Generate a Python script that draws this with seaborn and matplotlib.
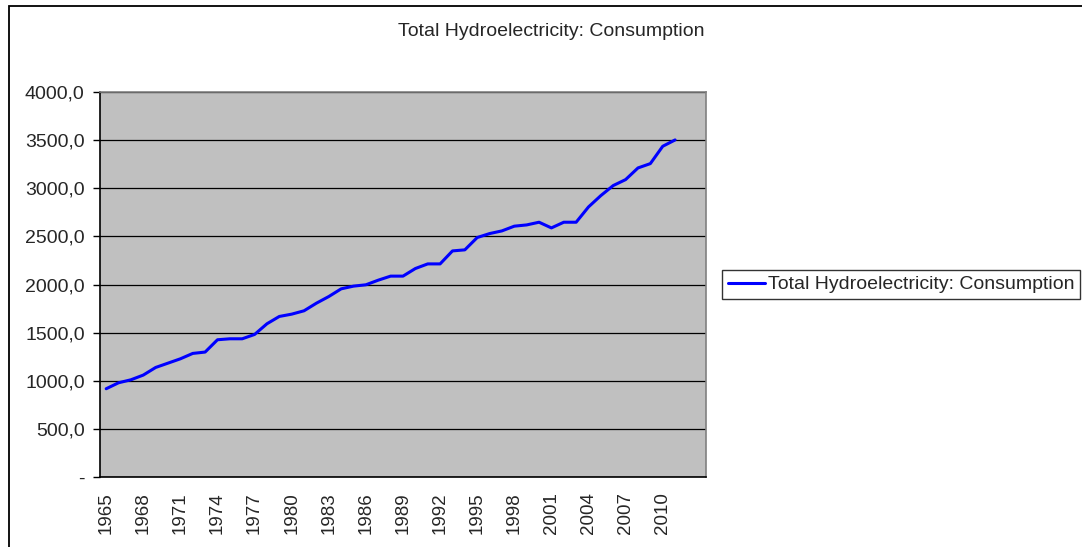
import numpy as np
import pandas as pd
import seaborn as sns
from matplotlib import pyplot as plt
from matplotlib.patches import Rectangle
from matplotlib.ticker import FuncFormatter

# data
years = [str(y) for y in range(1965, 2012)] + ['', '']
consumption = [917, 979, 1010, 1059, 1138, 1183, 1228, 1284, 1298, 1426,
               1436, 1436, 1481, 1592, 1668, 1692, 1727, 1806, 1875, 1955,
               1983, 1997, 2045, 2087, 2087, 2166, 2214, 2214, 2349, 2360,
               2488, 2529, 2557, 2606, 2619, 2647, 2588, 2647, 2647, 2806,
               2924, 3028, 3090, 3211, 3256, 3436, 3502]
series_name = 'Total Hydroelectricity: Consumption'

df = pd.DataFrame({'pos': np.arange(len(consumption)), 'value': consumption})

sns.set_style('white')
plt.rcParams['font.family'] = ['Liberation Sans', 'DejaVu Sans']
plt.rcParams['font.size'] = 14

fig = plt.figure(figsize=(10.82, 5.47), dpi=100)
ax = fig.add_axes([100/1082, 70/547, 606/1082, 385/547])
ax.set_facecolor('#c0c0c0')

sns.lineplot(data=df, x='pos', y='value', ax=ax, color='#0000ff',
             linewidth=2.2, label=series_name)

ax.set_xlim(-0.5, len(years) - 0.5)
ax.set_ylim(0, 4000)
ax.set_yticks(np.arange(0, 4001, 500))
ax.yaxis.set_major_formatter(FuncFormatter(
    lambda v, p: '-' if v == 0 else f'{v:.1f}'.replace('.', ',')))
ax.yaxis.grid(True, color='black', linewidth=0.9)
ax.set_axisbelow(True)

major = np.arange(0, len(years), 3)
ax.set_xticks(major)
ax.set_xticklabels([years[i] for i in major], rotation=90, fontsize=13.5)
ax.set_xticks(np.arange(-0.5, len(years)), minor=True)
ax.tick_params(axis='x', which='major', length=0, pad=11)
ax.tick_params(axis='x', which='minor', length=5, width=1, color='black', direction='out')
ax.tick_params(axis='y', length=5, width=1, color='black', direction='out', pad=6, left=True,
               labelsize=14)
ax.set_xlabel('')
ax.set_ylabel('')

for side in ['left', 'bottom']:
    ax.spines[side].set_color('black')
    ax.spines[side].set_linewidth(1.2)
for side in ['top', 'right']:
    ax.spines[side].set_color('#808080')
    ax.spines[side].set_linewidth(1.2)

leg = ax.legend(loc='center left', bbox_to_anchor=(722/1082, 1 - 284.5/547),
                bbox_transform=fig.transFigure, frameon=True, fancybox=False,
                handlelength=1.9, handletextpad=0.15, borderpad=0.3,
                borderaxespad=0)
leg.get_frame().set_edgecolor('black')
leg.get_frame().set_linewidth(1)

fig.text(551/1082, 1 - 32/547, series_name, ha='center', va='center', fontsize=14)

fig.patches.append(Rectangle((9/1082, -0.05), 1.2, 1.05 - 6/547, transform=fig.transFigure,
                             fill=False, edgecolor='black', linewidth=1.3, clip_on=False))

fig.savefig('out.png', dpi=100)
